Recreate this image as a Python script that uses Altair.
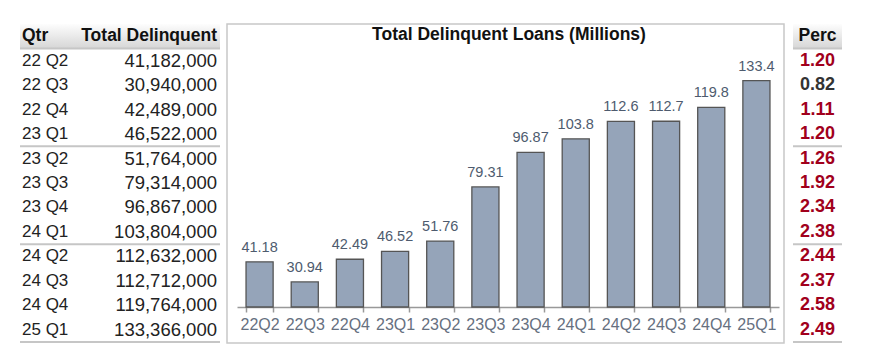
import altair as alt
import pandas as pd

FONT = "Liberation Sans"

quarters = ["22Q2", "22Q3", "22Q4", "23Q1", "23Q2", "23Q3",
            "23Q4", "24Q1", "24Q2", "24Q3", "24Q4", "25Q1"]
table_qtr = ["22 Q2", "22 Q3", "22 Q4", "23 Q1", "23 Q2", "23 Q3",
             "23 Q4", "24 Q1", "24 Q2", "24 Q3", "24 Q4", "25 Q1"]
delinquent = [41182000, 30940000, 42489000, 46522000, 51764000, 79314000,
              96867000, 103804000, 112632000, 112712000, 119764000, 133366000]
perc = [1.20, 0.82, 1.11, 1.20, 1.26, 1.92, 2.34, 2.38, 2.44, 2.37, 2.58, 2.49]
group_ends = ["hdr", "23Q1", "24Q1", "25Q1"]

TITLE = "Total Delinquent Loans (Millions)"
Y_MIN = 18.2
Y_MAX = 150

header_fill = alt.Gradient(
    gradient="linear",
    stops=[alt.GradientStop(color="#fdfdfd", offset=0),
           alt.GradientStop(color="#d6d6d6", offset=1)],
    x1=0, x2=0, y1=0, y2=1,
)

rows = ["hdr"] + quarters
yscale = alt.Scale(domain=rows, paddingInner=0, paddingOuter=0)
Y = alt.Y("row:N", scale=yscale, axis=None)
Ysep = alt.Y("row:N", scale=yscale, axis=None, bandPosition=1)

tbl_df = pd.DataFrame({"row": quarters, "qtr": table_qtr, "total": delinquent,
                       "perc": perc})
hdr_df = pd.DataFrame({"row": ["hdr"]})
sep_df = pd.DataFrame({"row": group_ends})

# ---------- left table ----------
TW = 200
l_hdr = alt.Chart(hdr_df).mark_rect(fill=header_fill).encode(
    y=Y, x=alt.value(0), x2=alt.value(TW))
l_h1 = alt.Chart(hdr_df).mark_text(text="Qtr", align="left", font=FONT, fontSize=17.5,
                                   fontWeight="bold", color="#111").encode(y=Y, x=alt.value(2))
l_h2 = alt.Chart(hdr_df).mark_text(text="Total Delinquent", align="right", font=FONT,
                                   fontSize=17.5, fontWeight="bold", color="#111").encode(
    y=Y, x=alt.value(TW - 3))
l_q = alt.Chart(tbl_df).mark_text(align="left", font=FONT, fontSize=17, color="#222").encode(
    y=Y, x=alt.value(2), text="qtr:N")
l_t = alt.Chart(tbl_df).mark_text(align="right", font=FONT, fontSize=18.5, color="#222").encode(
    y=Y, x=alt.value(TW - 3), text=alt.Text("total:Q", format=","))
l_sep = alt.Chart(sep_df).mark_rule(color="#c6c6c6", strokeWidth=2).encode(
    y=Ysep, x=alt.value(0), x2=alt.value(TW))
left = alt.layer(l_hdr, l_sep, l_h1, l_h2, l_q, l_t).properties(width=207, height=318)

# ---------- middle bar chart ----------
bar_df = pd.DataFrame({"qtr": quarters, "millions": [v / 1e6 for v in delinquent]})
title_df = pd.DataFrame({"t": [TITLE]})

X = alt.X("qtr:N", sort=quarters,
          scale=alt.Scale(range=[10, 552], paddingInner=0.4, paddingOuter=0.2),
          axis=alt.Axis(title=None, labelAngle=0, offset=-36, tickBand="extent",
                        labelFont=FONT, labelFontSize=16, labelColor="#66707f",
                        labelPadding=4, tickSize=5, tickColor="#999999",
                        domainColor="#999999", domainWidth=1.5, tickWidth=1.5))
Yb = alt.Y("millions:Q", scale=alt.Scale(domain=[Y_MIN, Y_MAX], range=[283, 24]), axis=None)

bars = alt.Chart(bar_df).mark_bar(fill="#95a4b9", stroke="#555555", strokeWidth=1.3).encode(
    x=X, y=Yb, y2=alt.datum(Y_MIN))
labels = alt.Chart(bar_df).mark_text(baseline="bottom", dy=-7, font=FONT, fontSize=14.5,
                                     color="#4e5b6e").encode(
    x=X, y=Yb, text=alt.Text("millions:Q", format=".4"))
title = alt.Chart(title_df).mark_text(font=FONT, fontSize=17.5, fontWeight="bold",
                                      color="#111").encode(
    x=alt.value(282), y=alt.value(11), text="t:N")
middle = alt.layer(bars, labels, title).properties(
    width=557, height=319,
    view=alt.ViewBackground(stroke="#c8c8c8", strokeWidth=1.5))

# ---------- right column ----------
RX0, RX1 = 9, 58
RC = (RX0 + RX1) / 2
r_hdr = alt.Chart(hdr_df).mark_rect(fill=header_fill).encode(
    y=Y, x=alt.value(RX0), x2=alt.value(RX1))
r_h = alt.Chart(hdr_df).mark_text(text="Perc", font=FONT, fontSize=17.5, fontWeight="bold",
                                  color="#111").encode(y=Y, x=alt.value(RC))
r_v = alt.Chart(tbl_df).mark_text(font=FONT, fontSize=18, fontWeight="bold").encode(
    y=Y, x=alt.value(RC), text=alt.Text("perc:Q", format=".2f"),
    color=alt.condition(alt.datum.perc < 1, alt.value("#333333"), alt.value("#a1001c")))
r_sep = alt.Chart(sep_df).mark_rule(color="#c6c6c6", strokeWidth=2).encode(
    y=Ysep, x=alt.value(RX0), x2=alt.value(RX1))
right = alt.layer(r_hdr, r_sep, r_h, r_v).properties(width=62, height=318)

chart = alt.hconcat(left, middle, right, spacing=0, bounds="flush").properties(
    padding={"left": 10, "top": 15, "right": 5, "bottom": 5}
).configure_view(stroke="transparent")

chart.save("out.html", embed_options={"renderer": "svg", "actions": False})
